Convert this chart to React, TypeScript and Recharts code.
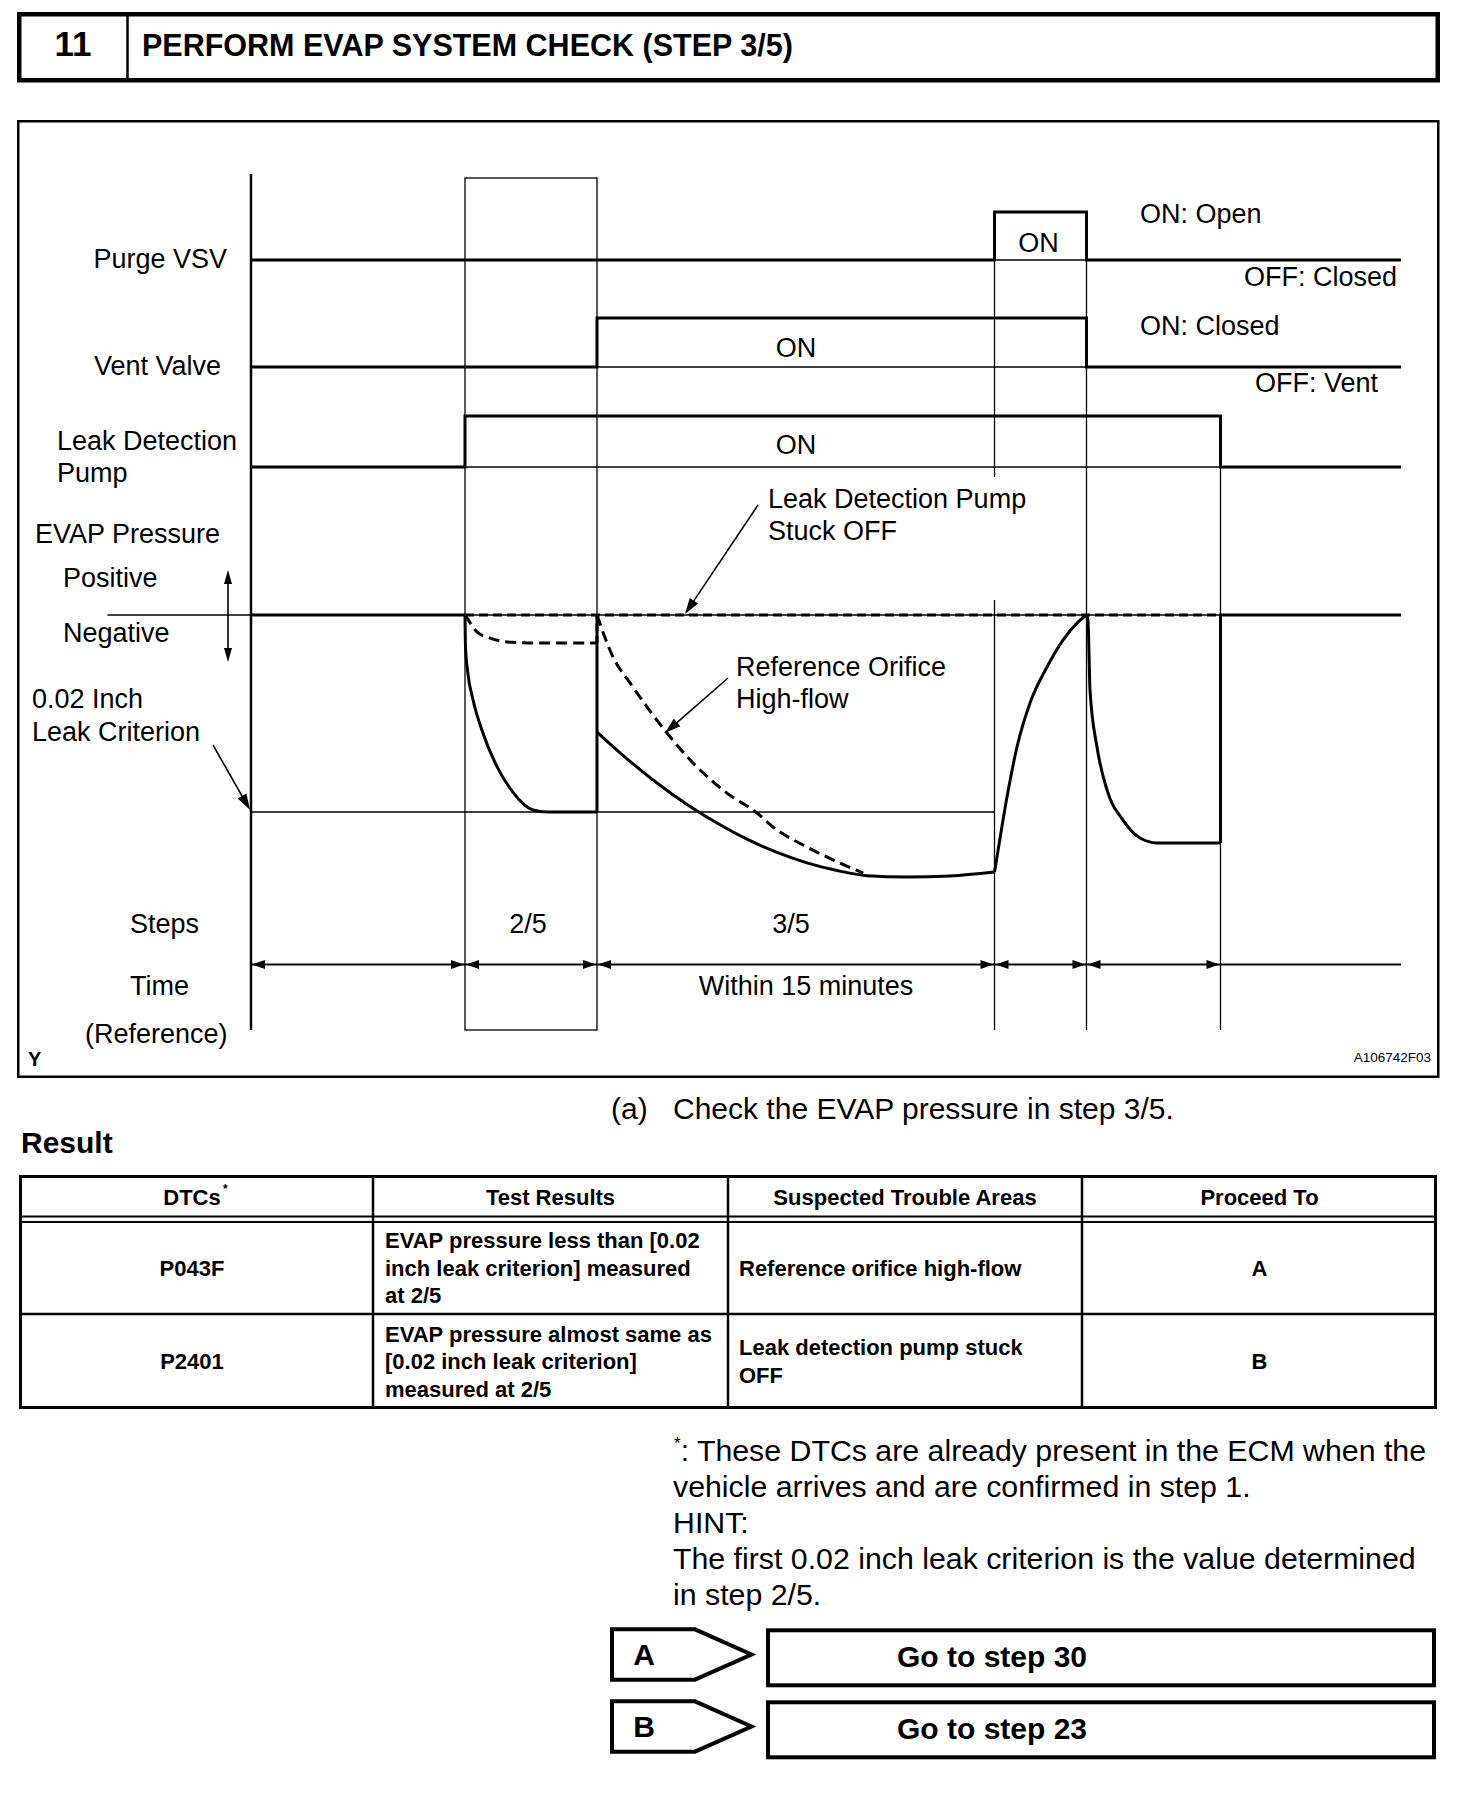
import React from 'react';
import { ComposedChart, Line, XAxis, YAxis, ReferenceLine } from 'recharts';

// ---------------- data (time in arbitrary schematic units, pressure relative to the 0.02 inch leak criterion = -1) ----------------
const T_MAX = 115;
const T_PUMP_ON = 21.4;
const T_VENT_ON = 34.6;
const T_PURGE_ON = 74.35;
const T_PURGE_OFF = 83.55;
const T_PUMP_OFF = 96.95;

const purgeVsv = [
  { t: 0, v: 0 }, { t: 74.35, v: 0 }, { t: 74.35, v: 1 }, { t: 83.55, v: 1 }, { t: 83.55, v: 0 }, { t: 115, v: 0 },
];
const ventValve = [
  { t: 0, v: 0 }, { t: 34.6, v: 0 }, { t: 34.6, v: 1 }, { t: 83.55, v: 1 }, { t: 83.55, v: 0 }, { t: 115, v: 0 },
];
const leakPump = [
  { t: 0, v: 0 }, { t: 21.4, v: 0 }, { t: 21.4, v: 1 }, { t: 96.95, v: 1 }, { t: 96.95, v: 0 }, { t: 115, v: 0 },
];

// EVAP pressure, normal trace (solid)
const pressIdle = [{ t: 0, p: 0 }, { t: 21.4, p: 0 }];
const press25 = [
  { t: 21.4, p: 0 }, { t: 21.45, p: -0.16 }, { t: 21.7, p: -0.3 }, { t: 22.2, p: -0.43 }, { t: 23.2, p: -0.6 },
  { t: 24.6, p: -0.77 }, { t: 26.2, p: -0.9 }, { t: 28.2, p: -0.99 }, { t: 29.6, p: -1.0 }, { t: 34.6, p: -1.0 },
];
const press25Release = [{ t: 34.6, p: -1.0 }, { t: 34.6, p: 0 }, { t: 34.6, p: -0.594 }];
const press35 = [
  { t: 34.6, p: -0.594 }, { t: 37.6, p: -0.73 }, { t: 40.6, p: -0.853 }, { t: 43.6, p: -0.962 }, { t: 46.6, p: -1.056 },
  { t: 49.6, p: -1.138 }, { t: 52.6, p: -1.205 }, { t: 55.6, p: -1.258 }, { t: 58.6, p: -1.297 }, { t: 61.6, p: -1.323 },
  { t: 65.6, p: -1.33 }, { t: 69.9, p: -1.325 }, { t: 74.35, p: -1.305 },
];
const pressPurge = [
  { t: 74.35, p: -1.305 }, { t: 74.6, p: -1.228 }, { t: 75.6, p: -0.924 }, { t: 76.6, p: -0.67 }, { t: 77.9, p: -0.447 },
  { t: 79.6, p: -0.264 }, { t: 81.2, p: -0.127 }, { t: 82.6, p: -0.041 }, { t: 83.55, p: 0 },
];
const pressRecheck = [
  { t: 83.55, p: 0 }, { t: 83.7, p: -0.03 }, { t: 83.9, p: -0.38 }, { t: 84.6, p: -0.67 }, { t: 85.6, p: -0.888 },
  { t: 87.2, p: -1.041 }, { t: 88.9, p: -1.132 }, { t: 90.6, p: -1.157 }, { t: 96.95, p: -1.157 },
];
const pressEnd = [{ t: 96.95, p: -1.157 }, { t: 96.95, p: 0 }, { t: 115, p: 0 }];

// EVAP pressure, fault traces (dashed)
const pumpStuckOff = [{ t: 21.4, p: 0 }, { t: 96.95, p: 0 }];
const orifice25 = [
  { t: 21.4, p: 0 }, { t: 21.6, p: -0.015 }, { t: 22.6, p: -0.086 }, { t: 23.9, p: -0.117 }, { t: 25.6, p: -0.137 },
  { t: 28.2, p: -0.142 }, { t: 34.6, p: -0.142 },
];
const orifice25Release = [{ t: 34.6, p: -0.142 }, { t: 34.6, p: 0 }];
const orifice35 = [
  { t: 34.6, p: 0 }, { t: 36.2, p: -0.213 }, { t: 37.9, p: -0.345 }, { t: 39.6, p: -0.467 }, { t: 41.6, p: -0.599 },
  { t: 44.2, p: -0.751 }, { t: 47.6, p: -0.904 }, { t: 50.6, p: -1.005 }, { t: 52.2, p: -1.076 }, { t: 55.6, p: -1.178 },
  { t: 58.9, p: -1.259 }, { t: 61.2, p: -1.31 },
];

// texts
const headerNumber = '11';
const headerTitle = 'PERFORM EVAP SYSTEM CHECK (STEP 3/5)';
const stepLabels = ['2/5', '3/5'];
const tableHeaders = ['DTCs', 'Test Results', 'Suspected Trouble Areas', 'Proceed To'];
const dtcCodes = ['P043F', 'P2401'];
const testResults = [
  ['EVAP pressure less than [0.02', 'inch leak criterion] measured', 'at 2/5'],
  ['EVAP pressure almost same as', '[0.02 inch leak criterion]', 'measured at 2/5'],
];
const troubleAreas = [['Reference orifice high-flow'], ['Leak detection pump stuck', 'OFF']];
const proceedTo = ['A', 'B'];
const nextSteps = ['Go to step 30', 'Go to step 23'];
const noteLines = [
  ': These DTCs are already present in the ECM when the',
  'vehicle arrives and are confirmed in step 1.',
  'HINT:',
  'The first 0.02 inch leak criterion is the value determined',
  'in step 2/5.',
];

// ---------------- layout ----------------
const FONT = "'Liberation Sans', Arial, Helvetica, sans-serif";
const CHART_W = 1472;
const CHART_H = 1100;
const PLOT_L = 251;
const PLOT_R = 1401;
const PLOT_T = 174;
const PLOT_B = 1030;
const tx = (t: number) => PLOT_L + (t / T_MAX) * (PLOT_R - PLOT_L);

const ROWS = {
  purge: { off: 260, on: 212 },
  vent: { off: 367, on: 318 },
  pump: { off: 467, on: 416 },
};
const PRESS_ZERO = 615;
const PRESS_UNIT = 197;
const rowDomain = (r: { off: number; on: number }) => [
  (r.off - PLOT_B) / (r.off - r.on),
  (r.off - PLOT_T) / (r.off - r.on),
];
const pressDomain = [(PRESS_ZERO - PLOT_B) / PRESS_UNIT, (PRESS_ZERO - PLOT_T) / PRESS_UNIT];

const TIME_Y = 964.5;

function Arrow({ x1, y1, x2, y2, len = 16, hw = 5, w = 1.6 }: any) {
  const a = Math.atan2(y2 - y1, x2 - x1);
  const c = Math.cos(a);
  const s = Math.sin(a);
  const bx = x2 - len * c;
  const by = y2 - len * s;
  const pts = `${x2},${y2} ${bx - s * hw},${by + c * hw} ${bx + s * hw},${by - c * hw}`;
  return (
    <g>
      <line x1={x1} y1={y1} x2={bx + c * 2} y2={by + s * 2} stroke="#000" strokeWidth={w} />
      <polygon points={pts} fill="#000" />
    </g>
  );
}

function Head({ x, dir }: { x: number; dir: 1 | -1 }) {
  const len = 13;
  const hw = 4.5;
  const bx = x - dir * len;
  return <polygon points={`${x},${TIME_Y} ${bx},${TIME_Y - hw} ${bx},${TIME_Y + hw}`} fill="#000" />;
}

const T = (props: any) => <text fontFamily={FONT} fontSize={27} fill="#000" {...props} />;

function Diagram() {
  const xPump = tx(T_PUMP_ON);
  const xVent = tx(T_VENT_ON);
  const xPurgeOn = tx(T_PURGE_ON);
  const xPurgeOff = tx(T_PURGE_OFF);
  const xPumpOff = tx(T_PUMP_OFF);
  const thin = { stroke: '#000', strokeWidth: 1.3 };
  const marks = [xPump, xVent, xPurgeOn, xPurgeOff];
  return (
    <g>
      <rect x={18.25} y={121.25} width={1420} height={955.5} fill="none" stroke="#000" strokeWidth={2.5} />
      <line x1={PLOT_L} y1={PLOT_T} x2={PLOT_L} y2={PLOT_B} stroke="#000" strokeWidth={2.5} />
      <rect x={xPump} y={178} width={xVent - xPump} height={PLOT_B - 178} fill="none" {...thin} />
      <line x1={xPurgeOn} y1={ROWS.purge.off} x2={xPurgeOn} y2={477} {...thin} />
      <line x1={xPurgeOn} y1={600} x2={xPurgeOn} y2={PLOT_B} {...thin} />
      <line x1={xPurgeOff} y1={ROWS.purge.off} x2={xPurgeOff} y2={PLOT_B} {...thin} />
      <line x1={xPumpOff} y1={ROWS.pump.off} x2={xPumpOff} y2={PLOT_B} {...thin} />
      <line x1={107.5} y1={PRESS_ZERO} x2={PLOT_L} y2={PRESS_ZERO} {...thin} />
      <line x1={PLOT_L} y1={TIME_Y} x2={PLOT_R} y2={TIME_Y} stroke="#000" strokeWidth={2} />
      <Head x={PLOT_L + 1} dir={-1} />
      {marks.map((m, i) => (
        <g key={i}>
          <Head x={m - 1} dir={1} />
          <Head x={m + 1} dir={-1} />
        </g>
      ))}
      <Head x={xPumpOff - 1} dir={1} />

      <T x={227} y={268} textAnchor="end">Purge VSV</T>
      <T x={221} y={375} textAnchor="end">Vent Valve</T>
      <T x={57} y={450}>Leak Detection</T>
      <T x={57} y={482}>Pump</T>
      <T x={35} y={543}>EVAP Pressure</T>
      <T x={63} y={587}>Positive</T>
      <T x={63} y={642}>Negative</T>
      <T x={32} y={708}>0.02 Inch</T>
      <T x={32} y={741}>Leak Criterion</T>
      <T x={130} y={933}>Steps</T>
      <T x={130} y={995}>Time</T>
      <T x={85} y={1043}>(Reference)</T>
      <text x={28} y={1066} fontFamily={FONT} fontSize={20} fontWeight="bold">Y</text>
      <text x={1431} y={1062} fontFamily={FONT} fontSize={13.5} textAnchor="end">A106742F03</text>

      <T x={(xPump + xVent) / 2 - 3} y={933} textAnchor="middle">{stepLabels[0]}</T>
      <T x={791} y={933} textAnchor="middle">{stepLabels[1]}</T>
      <T x={806} y={995} textAnchor="middle">Within 15 minutes</T>
      <T x={(xPurgeOn + xPurgeOff) / 2 - 2} y={252} textAnchor="middle">ON</T>
      <T x={1140} y={223}>ON: Open</T>
      <T x={1397} y={286} textAnchor="end">OFF: Closed</T>
      <T x={796} y={357} textAnchor="middle">ON</T>
      <T x={1140} y={335}>ON: Closed</T>
      <T x={1378} y={392} textAnchor="end">OFF: Vent</T>
      <T x={796} y={454} textAnchor="middle">ON</T>
      <T x={768} y={508}>Leak Detection Pump</T>
      <T x={768} y={540}>Stuck OFF</T>
      <T x={736} y={676}>Reference Orifice</T>
      <T x={736} y={708}>High-flow</T>

      <Arrow x1={228} y1={616} x2={228} y2={570} len={14} hw={4} w={1.6} />
      <Arrow x1={228} y1={616} x2={228} y2={662} len={14} hw={4} w={1.6} />
      <Arrow x1={213} y1={745} x2={250} y2={810} />
      <Arrow x1={758} y1={505} x2={685} y2={614} />
      <Arrow x1={728} y1={678} x2={665} y2={733} />
    </g>
  );
}

function Header() {
  return (
    <g>
      <rect x={19.25} y={14.25} width={1418.5} height={66} fill="none" stroke="#000" strokeWidth={4.5} />
      <line x1={127.5} y1={14} x2={127.5} y2={80} stroke="#000" strokeWidth={2.5} />
      <text x={73} y={56} fontFamily={FONT} fontSize={35} fontWeight="bold" textAnchor="middle">{headerNumber}</text>
      <text x={142} y={56} fontFamily={FONT} fontSize={30.5} fontWeight="bold">{headerTitle}</text>
    </g>
  );
}

function ResultTable() {
  const cols = [19, 373, 728, 1082, 1437];
  const rowTops = [1222, 1314];
  const rowBots = [1314, 1409];
  const fs = 22;
  const lh = 27.5;
  const txt = { fontFamily: FONT, fontSize: fs, fontWeight: 'bold' as const, fill: '#000' };
  return (
    <g>
      <text x={611} y={1119} fontFamily={FONT} fontSize={30}>(a)</text>
      <text x={673} y={1119} fontFamily={FONT} fontSize={30}>Check the EVAP pressure in step 3/5.</text>
      <text x={21} y={1153} fontFamily={FONT} fontSize={30} fontWeight="bold">Result</text>

      <rect x={20.5} y={1176.5} width={1415} height={231} fill="none" stroke="#000" strokeWidth={3} />
      {cols.slice(1, 4).map((c) => (
        <line key={c} x1={c} y1={1175} x2={c} y2={1409} stroke="#000" strokeWidth={2.5} />
      ))}
      <line x1={19} y1={1216.5} x2={1437} y2={1216.5} stroke="#000" strokeWidth={2} />
      <line x1={19} y1={1222} x2={1437} y2={1222} stroke="#000" strokeWidth={2} />
      <line x1={19} y1={1314} x2={1437} y2={1314} stroke="#000" strokeWidth={2.5} />

      {tableHeaders.map((h, i) => {
        const cx = (cols[i] + cols[i + 1]) / 2;
        if (i === 0) {
          return (
            <g key={h}>
              <text x={cx - 4} y={1204.5} {...txt} textAnchor="middle">{h}</text>
              <text x={cx + 27} y={1193} fontFamily={FONT} fontSize={12} fontWeight="bold">*</text>
            </g>
          );
        }
        return <text key={h} x={cx} y={1204.5} {...txt} textAnchor="middle">{h}</text>;
      })}

      {dtcCodes.map((code, r) => {
        const cy = (rowTops[r] + rowBots[r]) / 2;
        const base = cy + 7.8;
        const tr = testResults[r];
        const ta = troubleAreas[r];
        return (
          <g key={code}>
            <text x={(cols[0] + cols[1]) / 2 - 4} y={base} {...txt} textAnchor="middle">{code}</text>
            {tr.map((l, i) => (
              <text key={i} x={385} y={base + (i - (tr.length - 1) / 2) * lh} {...txt}>{l}</text>
            ))}
            {ta.map((l, i) => (
              <text key={i} x={739} y={base + (i - (ta.length - 1) / 2) * 28} {...txt}>{l}</text>
            ))}
            <text x={(cols[3] + cols[4]) / 2} y={base} {...txt} textAnchor="middle">{proceedTo[r]}</text>
          </g>
        );
      })}
    </g>
  );
}

function Notes() {
  const baseY = 1460.5;
  const lh = 36;
  return (
    <g>
      {noteLines.map((l, i) =>
        i === 0 ? (
          <text key={i} x={674} y={baseY} fontFamily={FONT} fontSize={30.3}>
            <tspan fontSize={17} dy={-12}>*</tspan>
            <tspan dy={12}>{l}</tspan>
          </text>
        ) : (
          <text key={i} x={673} y={baseY + i * lh} fontFamily={FONT} fontSize={30.3}>{l}</text>
        )
      )}
      {proceedTo.map((p, i) => {
        const top = 1629.3 + i * 72;
        const bot = top + 50.4;
        const mid = (top + bot) / 2;
        return (
          <g key={p}>
            <polygon
              points={`612,${top} 695,${top} 751.5,${mid} 695,${bot} 612,${bot}`}
              fill="none"
              stroke="#000"
              strokeWidth={4}
            />
            <rect x={768} y={top + 1} width={666} height={55} fill="none" stroke="#000" strokeWidth={4} />
            <text x={644} y={mid + 10.5} fontFamily={FONT} fontSize={30} fontWeight="bold" textAnchor="middle">{p}</text>
            <text x={897} y={mid + 12} fontFamily={FONT} fontSize={30} fontWeight="bold">{nextSteps[i]}</text>
          </g>
        );
      })}
    </g>
  );
}

export default function App() {
  const solid = { stroke: '#000', strokeWidth: 3, dot: false, activeDot: false, isAnimationActive: false, xAxisId: 0 };
  const dashed = { ...solid, strokeDasharray: '11 6' };
  const thin = { stroke: '#000', strokeWidth: 1.3 };
  return (
    <div style={{ position: 'absolute', left: 0, top: 0, width: 1472, height: 1820, background: '#fff', overflow: 'hidden' }}>
      <div style={{ position: 'absolute', left: 0, top: 0 }}>
        <ComposedChart width={CHART_W} height={CHART_H} margin={{ top: PLOT_T, right: CHART_W - PLOT_R, bottom: CHART_H - PLOT_B, left: PLOT_L }}>
          <XAxis xAxisId={0} dataKey="t" type="number" domain={[0, T_MAX]} allowDataOverflow hide />
          <YAxis yAxisId="purge" type="number" domain={rowDomain(ROWS.purge)} allowDataOverflow hide width={0} />
          <YAxis yAxisId="vent" type="number" domain={rowDomain(ROWS.vent)} allowDataOverflow hide width={0} />
          <YAxis yAxisId="pump" type="number" domain={rowDomain(ROWS.pump)} allowDataOverflow hide width={0} />
          <YAxis yAxisId="press" type="number" domain={pressDomain} allowDataOverflow hide width={0} />

          <ReferenceLine yAxisId="purge" segment={[{ x: T_PURGE_ON, y: 0 }, { x: T_PURGE_OFF, y: 0 }]} {...thin} />
          <ReferenceLine yAxisId="vent" segment={[{ x: T_VENT_ON, y: 0 }, { x: T_PURGE_OFF, y: 0 }]} {...thin} />
          <ReferenceLine yAxisId="pump" segment={[{ x: T_PUMP_ON, y: 0 }, { x: T_PUMP_OFF, y: 0 }]} {...thin} />
          <ReferenceLine yAxisId="press" segment={[{ x: T_PUMP_ON, y: 0 }, { x: T_PUMP_OFF, y: 0 }]} {...thin} />
          <ReferenceLine yAxisId="press" segment={[{ x: 0, y: -1 }, { x: T_PURGE_ON, y: -1 }]} {...thin} />

          <Line yAxisId="purge" data={purgeVsv} dataKey="v" type="linear" {...solid} />
          <Line yAxisId="vent" data={ventValve} dataKey="v" type="linear" {...solid} />
          <Line yAxisId="pump" data={leakPump} dataKey="v" type="linear" {...solid} />

          <Line yAxisId="press" data={pumpStuckOff} dataKey="p" type="linear" {...dashed} strokeDasharray="9 5" />
          <Line yAxisId="press" data={orifice25} dataKey="p" type="monotone" {...dashed} />
          <Line yAxisId="press" data={orifice25Release} dataKey="p" type="linear" {...dashed} strokeDasharray="7 5" />
          <Line yAxisId="press" data={orifice35} dataKey="p" type="monotone" {...dashed} />

          <Line yAxisId="press" data={pressIdle} dataKey="p" type="linear" {...solid} />
          <Line yAxisId="press" data={press25} dataKey="p" type="monotone" {...solid} />
          <Line yAxisId="press" data={press25Release} dataKey="p" type="linear" {...solid} />
          <Line yAxisId="press" data={press35} dataKey="p" type="monotone" {...solid} />
          <Line yAxisId="press" data={pressPurge} dataKey="p" type="monotone" {...solid} />
          <Line yAxisId="press" data={pressRecheck} dataKey="p" type="monotone" {...solid} />
          <Line yAxisId="press" data={pressEnd} dataKey="p" type="linear" {...solid} />
        </ComposedChart>
      </div>
      <svg width={1472} height={1820} style={{ position: 'absolute', left: 0, top: 0, pointerEvents: 'none' }}>
        <Header />
        <Diagram />
        <ResultTable />
        <Notes />
      </svg>
    </div>
  );
}
